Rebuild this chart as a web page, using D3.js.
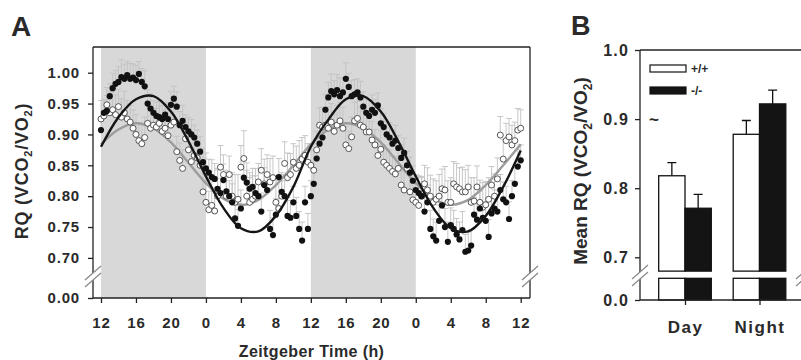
<!DOCTYPE html>
<html>
<head>
<meta charset="utf-8">
<script src="https://cdn.jsdelivr.net/npm/d3@7"></script>
<style>
  body { margin: 0; background: #fff; }
  text { font-family: "Liberation Sans", Arial, sans-serif; font-weight: bold; fill: #2a2a2a; }
</style>
</head>
<body>
<svg id="chart" width="801" height="360"></svg>
<script>
// Panel A: RQ every 20 min, hours counted from ZT12 of the first night (0..48)
const ko = [
  0.907,0.935,0.938,0.962,0.975,0.982,0.985,0.993,0.990,0.996,0.990,0.992,
  0.988,0.998,0.985,0.978,0.950,0.942,0.935,0.930,0.928,0.925,0.932,0.925,
  0.948,0.958,0.945,0.915,0.922,0.912,0.905,0.900,0.895,0.885,0.872,0.855,
  0.845,0.838,0.831,0.828,0.812,0.805,0.826,0.808,0.800,0.790,0.764,0.752,
  0.780,0.830,0.822,0.812,0.815,0.805,0.800,0.775,0.818,0.810,0.747,0.737,
  0.770,0.831,0.807,0.800,0.768,0.765,0.790,0.768,0.747,0.728,0.790,0.747,
  0.800,0.820,0.861,0.885,0.895,0.940,0.960,0.970,0.965,0.972,0.962,0.968,
  0.990,0.977,0.962,0.965,0.968,0.960,0.945,0.935,0.930,0.940,0.935,0.947,
  0.918,0.912,0.900,0.895,0.885,0.890,0.878,0.862,0.870,0.850,0.838,0.825,
  0.810,0.805,0.800,0.775,0.790,0.747,0.735,0.728,0.760,0.785,0.750,0.726,
  0.753,0.747,0.738,0.730,0.745,0.710,0.712,0.720,0.770,0.762,0.780,0.765,
  0.760,0.734,0.772,0.780,0.775,0.810,0.795,0.790,0.763,0.800,0.820,0.848,
  0.858
];
const wt = [
  0.925,0.930,0.948,0.935,0.940,0.932,0.945,0.928,0.935,0.925,0.920,0.910,
  0.900,0.890,0.885,0.895,0.918,0.910,0.915,0.912,0.918,0.905,0.910,0.898,
  0.915,0.920,0.872,0.858,0.845,0.893,0.875,0.856,0.866,0.862,0.850,0.807,
  0.790,0.778,0.785,0.776,0.800,0.847,0.835,0.800,0.835,0.800,0.790,0.795,
  0.847,0.861,0.800,0.790,0.795,0.800,0.823,0.842,0.820,0.835,0.823,0.830,
  0.790,0.780,0.800,0.853,0.830,0.835,0.855,0.845,0.850,0.860,0.866,0.855,
  0.850,0.842,0.875,0.915,0.912,0.915,0.910,0.920,0.905,0.915,0.922,0.910,
  0.883,0.877,0.896,0.922,0.926,0.915,0.912,0.904,0.904,0.891,0.883,0.866,
  0.876,0.855,0.850,0.845,0.840,0.836,0.845,0.818,0.810,0.845,0.807,0.794,
  0.790,0.785,0.800,0.820,0.810,0.800,0.790,0.795,0.800,0.812,0.810,0.790,
  0.790,0.820,0.815,0.812,0.807,0.807,0.815,0.790,0.792,0.815,0.790,0.782,
  0.786,0.795,0.818,0.800,0.828,0.899,0.860,0.890,0.896,0.883,0.890,0.907,
  0.910
];
const koSem = [
  0.020,0.022,0.025,0.020,0.024,0.022,0.025,0.028,0.024,0.022,0.025,0.022,
  0.024,0.020,0.022,0.025,0.022,0.024,0.020,0.022,0.025,0.022,0.020,0.024,
  0.022,0.020,0.024,0.022,0.025,0.020,0.022,0.024,0.020,0.022,0.025,0.022,
  0.025,0.022,0.028,0.025,0.030,0.024,0.026,0.028,0.025,0.030,0.024,0.026,
  0.030,0.028,0.032,0.026,0.030,0.028,0.025,0.030,0.028,0.026,0.030,0.028,
  0.026,0.030,0.028,0.025,0.030,0.028,0.026,0.030,0.028,0.030,0.026,0.025,
  0.025,0.022,0.024,0.026,0.022,0.025,0.024,0.028,0.022,0.025,0.030,0.024,
  0.026,0.022,0.025,0.024,0.022,0.026,0.024,0.022,0.025,0.024,0.022,0.020,
  0.024,0.022,0.020,0.024,0.022,0.025,0.020,0.022,0.024,0.022,0.025,0.024,
  0.025,0.028,0.030,0.026,0.028,0.030,0.028,0.030,0.026,0.028,0.030,0.032,
  0.028,0.030,0.026,0.028,0.030,0.028,0.030,0.026,0.028,0.030,0.028,0.026,
  0.030,0.028,0.026,0.030,0.028,0.025,0.028,0.026,0.028,0.025,0.026,0.028,
  0.025
];
const wtSem = [
  0.030,0.025,0.028,0.035,0.030,0.032,0.028,0.030,0.035,0.030,0.027,0.030,
  0.032,0.028,0.030,0.033,0.030,0.028,0.025,0.030,0.028,0.026,0.030,0.032,
  0.028,0.030,0.025,0.028,0.030,0.026,0.024,0.030,0.028,0.026,0.025,0.030,
  0.035,0.030,0.040,0.038,0.045,0.035,0.032,0.042,0.030,0.038,0.045,0.040,
  0.035,0.045,0.042,0.040,0.038,0.045,0.030,0.035,0.040,0.032,0.038,0.035,
  0.042,0.045,0.038,0.035,0.040,0.034,0.030,0.036,0.040,0.035,0.032,0.030,
  0.035,0.032,0.030,0.028,0.032,0.030,0.035,0.030,0.028,0.032,0.030,0.034,
  0.030,0.028,0.032,0.030,0.028,0.030,0.026,0.030,0.028,0.030,0.025,0.028,
  0.030,0.028,0.026,0.030,0.025,0.028,0.030,0.026,0.030,0.028,0.030,0.032,
  0.030,0.035,0.032,0.030,0.036,0.034,0.038,0.030,0.035,0.032,0.038,0.035,
  0.040,0.036,0.038,0.034,0.040,0.036,0.035,0.040,0.038,0.034,0.036,0.040,
  0.038,0.035,0.030,0.036,0.034,0.030,0.032,0.028,0.030,0.032,0.030,0.035,
  0.030
];
// fitted curves read every 2 h
const fitHours = [0,2,4,6,8,10,12,14,16,18,20,22,24,26,28,30,32,34,36,38,40,42,44,46,48];
const koFit = [0.880,0.928,0.957,0.962,0.937,0.889,0.832,0.781,0.748,0.743,0.768,0.815,
               0.880,0.924,0.957,0.962,0.937,0.889,0.832,0.781,0.748,0.743,0.768,0.815,0.874];
const wtFit = [0.884,0.908,0.918,0.910,0.887,0.854,0.821,0.796,0.786,0.794,0.818,0.850,
               0.884,0.908,0.918,0.910,0.887,0.854,0.821,0.796,0.786,0.794,0.818,0.850,0.884];
const darkPhases = [[0, 12], [24, 36]];
const xTickLabels = ['12','16','20','0','4','8','12','16','20','0','4','8','12'];
const yTicksA = [0.70, 0.75, 0.80, 0.85, 0.90, 0.95, 1.00];

// Panel B: mean RQ
const groups = ['Day', 'Night'];
const genotypes = ['+/+', '-/-'];
const meanB = { '+/+': [0.818, 0.878], '-/-': [0.771, 0.922] };
const semB = { '+/+': [0.019, 0.020], '-/-': [0.020, 0.020] };
const yTicksB = [0.7, 0.8, 0.9, 1.0];

const svg = d3.select('#chart');
const ink = '#222';

function drawBreak(g, cx, cy) {
  g.append('path')
    .attr('d', `M${cx - 8},${cy + 3} L${cx + 8},${cy - 11} L${cx + 8},${cy - 4} L${cx - 8},${cy + 10}Z`)
    .attr('fill', '#fff');
  [0, 7].forEach(off => {
    g.append('line')
      .attr('x1', cx - 8).attr('y1', cy + 3 + off)
      .attr('x2', cx + 8).attr('y2', cy - 11 + off)
      .attr('stroke', '#888').attr('stroke-width', 1.2);
  });
}

// ---------- panel A ----------
const A = { left: 93, right: 530, top: 47, bottom: 298, brk: 277 };
const x = d3.scaleLinear().domain([0, 48]).range([101, 520.7]);
const y = d3.scaleLinear().domain([0.70, 1.00]).range([257.9, 72.7]);
const y0 = d3.scaleLinear().domain([0, 0.03]).range([A.bottom, 280]);
const hours = ko.map((d, i) => i / 3);

const gA = svg.append('g');

gA.selectAll('rect.dark')
  .data(darkPhases)
  .join('rect')
  .attr('class', 'dark')
  .attr('x', d => x(d[0]))
  .attr('width', d => x(d[1]) - x(d[0]))
  .attr('y', A.top)
  .attr('height', A.bottom - A.top)
  .attr('fill', '#d8d8d8');

// error bars (upward only)
const errs = [
  ...wt.map((v, i) => ({ h: hours[i], v, e: wtSem[i] })),
  ...ko.map((v, i) => ({ h: hours[i], v, e: koSem[i] }))
];
const errG = gA.append('g').attr('stroke', '#c2c2c2').attr('stroke-width', 0.9);
errG.selectAll('path')
  .data(errs)
  .join('path')
  .attr('fill', 'none')
  .attr('d', d => {
    const px = x(d.h), top = y(d.v + d.e);
    return `M${px},${y(d.v)}V${top}M${px - 3},${top}H${px + 3}`;
  });

// fitted curves
const line = d3.line()
  .x((d, i) => x(fitHours[i]))
  .y(d => y(d))
  .curve(d3.curveCatmullRom);

gA.append('path').datum(wtFit)
  .attr('d', line).attr('fill', 'none')
  .attr('stroke', '#9c9c9c').attr('stroke-width', 2.4);

// points
gA.append('g').selectAll('circle')
  .data(wt)
  .join('circle')
  .attr('cx', (d, i) => x(hours[i]))
  .attr('cy', d => y(d))
  .attr('r', 3)
  .attr('fill', '#fff')
  .attr('stroke', '#444')
  .attr('stroke-width', 0.9);

gA.append('g').selectAll('circle')
  .data(ko)
  .join('circle')
  .attr('cx', (d, i) => x(hours[i]))
  .attr('cy', d => y(d))
  .attr('r', 3.1)
  .attr('fill', '#111');

gA.append('path').datum(koFit)
  .attr('d', line).attr('fill', 'none')
  .attr('stroke', '#151515').attr('stroke-width', 2.4);

// frame
const frameA = gA.append('g').attr('stroke', ink).attr('stroke-width', 1.3).attr('fill', 'none');
frameA.append('path').attr('d', `M${A.left},${A.top}H${A.right}`);
frameA.append('path').attr('d', `M${A.left},${A.bottom}H${A.right}`);
frameA.append('path').attr('d', `M${A.left},${A.top}V${A.bottom}`);
frameA.append('path').attr('d', `M${A.right},${A.top}V${A.bottom}`);
drawBreak(gA, A.left, A.brk);
drawBreak(gA, A.right, A.brk);

// axes
const axA = gA.append('g')
  .attr('transform', `translate(${A.left},0)`)
  .call(d3.axisLeft(y).tickValues(yTicksA).tickFormat(d3.format('.2f')).tickSize(5).tickPadding(8));
const axA0 = gA.append('g')
  .attr('transform', `translate(${A.left},0)`)
  .call(d3.axisLeft(y0).tickValues([0]).tickFormat(d3.format('.2f')).tickSize(5).tickPadding(8));
const axAx = gA.append('g')
  .attr('transform', `translate(0,${A.bottom})`)
  .call(d3.axisBottom(x).tickValues(d3.range(0, 49, 4)).tickFormat((d, i) => xTickLabels[i]).tickSize(5).tickPadding(14));

[axA, axA0, axAx].forEach(ax => {
  ax.select('.domain').remove();
  ax.selectAll('.tick line').attr('stroke', ink).attr('stroke-width', 1.3);
  ax.selectAll('.tick text').attr('fill', ink).style('font-size', '15px').style('letter-spacing', '0.8px');
});

gA.append('text')
  .attr('x', (A.left + A.right) / 2).attr('y', 357)
  .attr('text-anchor', 'middle').style('font-size', '16px').style('letter-spacing', '0.4px')
  .text('Zeitgeber Time (h)');

const labA = gA.append('text')
  .attr('transform', 'translate(28,171) rotate(-90)')
  .attr('text-anchor', 'middle').style('font-size', '18px').style('letter-spacing', '0.8px');
labA.append('tspan').text('RQ (VCO');
labA.append('tspan').attr('dy', 4).style('font-size', '11px').text('2');
labA.append('tspan').attr('dy', -4).text('/VO');
labA.append('tspan').attr('dy', 4).style('font-size', '11px').text('2');
labA.append('tspan').attr('dy', -4).text(')');

svg.append('text').attr('x', 11).attr('y', 36).style('font-size', '28px').text('A');

// ---------- panel B ----------
const B = { left: 640, right: 804, top: 50, bottom: 300, brk: 276, upperFloor: 0.68, lowerTop: 278.3 };
const yB = d3.scaleLinear().domain([0.7, 1.0]).range([257.3, 50]);
const yB0 = d3.scaleLinear().domain([0, 0.03]).range([B.bottom, B.lowerTop]);
const xGroup = d3.scalePoint().domain(groups).range([685, 759.5]);
const xSub = d3.scaleBand().domain(genotypes).range([-26.3, 26.3]);
const fillOf = { '+/+': '#fff', '-/-': '#141414' };

const gB = svg.append('g');

const bars = groups.flatMap((g, gi) => genotypes.map(k => ({ g, k, v: meanB[k][gi], e: semB[k][gi] })));

gB.append('g').selectAll('path')
  .data(bars)
  .join('path')
  .attr('stroke', '#111').attr('stroke-width', 1.3).attr('fill', 'none')
  .attr('d', d => {
    const cx = xGroup(d.g) + xSub(d.k) + xSub.bandwidth() / 2;
    const top = yB(d.v + d.e);
    return `M${cx},${yB(d.v)}V${top}M${cx - 4.5},${top}H${cx + 4.5}`;
  });

const barG = gB.append('g').attr('stroke', '#111').attr('stroke-width', 1.3);
barG.selectAll('rect.up')
  .data(bars)
  .join('rect')
  .attr('class', 'up')
  .attr('x', d => xGroup(d.g) + xSub(d.k))
  .attr('width', xSub.bandwidth())
  .attr('y', d => yB(d.v))
  .attr('height', d => yB(B.upperFloor) - yB(d.v))
  .attr('fill', d => fillOf[d.k]);
barG.selectAll('rect.low')
  .data(bars)
  .join('rect')
  .attr('class', 'low')
  .attr('x', d => xGroup(d.g) + xSub(d.k))
  .attr('width', xSub.bandwidth())
  .attr('y', yB0(0.03))
  .attr('height', yB0(0) - yB0(0.03))
  .attr('fill', d => fillOf[d.k]);

const frameB = gB.append('g').attr('stroke', ink).attr('stroke-width', 1.3).attr('fill', 'none');
frameB.append('path').attr('d', `M${B.left},${B.top}H${B.right}`);
frameB.append('path').attr('d', `M${B.left},${B.bottom}H${B.right}`);
frameB.append('path').attr('d', `M${B.left},${B.top}V${B.bottom}`);
drawBreak(gB, B.left, B.brk);
drawBreak(gB, B.right, B.brk);

const axB = gB.append('g')
  .attr('transform', `translate(${B.left},0)`)
  .call(d3.axisLeft(yB).tickValues(yTicksB).tickFormat(d3.format('.1f')).tickSize(5).tickPadding(6));
const axB0 = gB.append('g')
  .attr('transform', `translate(${B.left},0)`)
  .call(d3.axisLeft(yB0).tickValues([0]).tickFormat(d3.format('.1f')).tickSize(5).tickPadding(6));
const axBx = gB.append('g')
  .attr('transform', `translate(0,${B.bottom})`)
  .call(d3.axisBottom(xGroup).tickSize(5).tickPadding(16));

[axB, axB0, axBx].forEach(ax => {
  ax.select('.domain').remove();
  ax.selectAll('.tick line').attr('stroke', ink).attr('stroke-width', 1.3);
  ax.selectAll('.tick text').attr('fill', ink).style('font-size', '16px').style('letter-spacing', '1.2px');
});
axBx.selectAll('.tick text').style('font-size', '17px').style('letter-spacing', '1.5px');

// legend
const leg = gB.append('g').attr('transform', 'translate(650,65)');
genotypes.forEach((k, i) => {
  leg.append('rect')
    .attr('x', 0).attr('y', i * 22).attr('width', 36).attr('height', 7)
    .attr('fill', fillOf[k]).attr('stroke', '#111').attr('stroke-width', 1.2);
  leg.append('text')
    .attr('x', 41).attr('y', i * 22 + 3.5).attr('dy', '0.35em')
    .style('font-size', '12px').text(k);
});
gB.append('text').attr('x', 649).attr('y', 125).style('font-size', '17px').text('~');

const labB = gB.append('text')
  .attr('transform', 'translate(587,171) rotate(-90)')
  .attr('text-anchor', 'middle').style('font-size', '19px');
labB.append('tspan').text('Mean RQ (VCO');
labB.append('tspan').attr('dy', 5).style('font-size', '12px').text('2');
labB.append('tspan').attr('dy', -5).text('/VO');
labB.append('tspan').attr('dy', 5).style('font-size', '12px').text('2');
labB.append('tspan').attr('dy', -5).text(')');

svg.append('text').attr('x', 571).attr('y', 35).style('font-size', '27px').text('B');
</script>
</body>
</html>
